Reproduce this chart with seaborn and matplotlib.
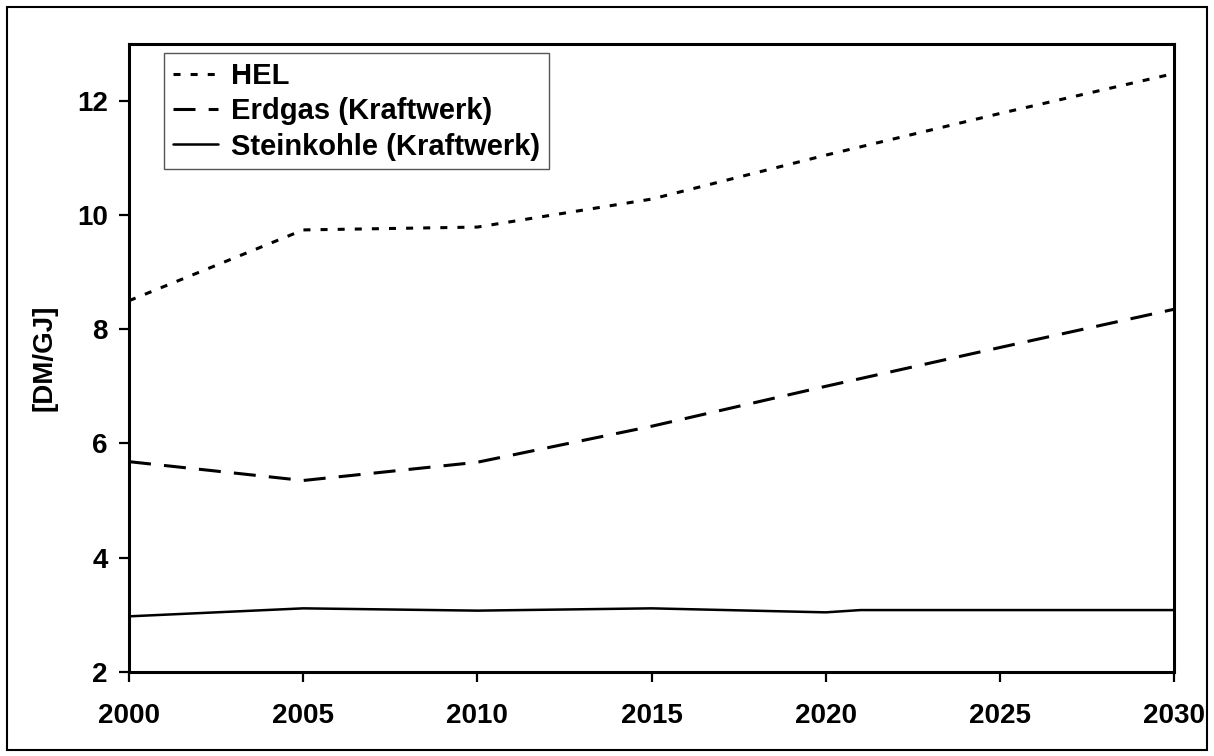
import numpy as np
import pandas as pd
import matplotlib
matplotlib.use("Agg")
import matplotlib.pyplot as plt
import seaborn as sns
from matplotlib.patches import Rectangle

# values
jahre = [2000, 2005, 2010, 2015, 2020, 2025, 2030]
hel = [8.50, 9.74, 9.79, 10.28, 11.05, 11.78, 12.48]
erdgas = [5.68, 5.35, 5.67, 6.30, 7.00, 7.68, 8.35]

jahre_kohle = [2000, 2005, 2010, 2015, 2020, 2021, 2030]
steinkohle = [2.97, 3.11, 3.07, 3.11, 3.04, 3.08, 3.08]

labels = ["HEL", "Erdgas (Kraftwerk)", "Steinkohle (Kraftwerk)"]
x_ticks = [2000, 2005, 2010, 2015, 2020, 2025, 2030]
y_ticks = [2, 4, 6, 8, 10, 12]

sns.set_theme(style="white")
plt.rcParams['font.family'] = ['Liberation Sans', 'DejaVu Sans']
plt.rcParams['font.weight'] = 'bold'
plt.rcParams['text.color'] = 'black'
plt.rcParams['axes.labelcolor'] = 'black'
plt.rcParams['xtick.color'] = 'black'
plt.rcParams['ytick.color'] = 'black'

fig = plt.figure(figsize=(12.14, 7.56), dpi=100)
ax = fig.add_axes([0.1063, 0.1115, 0.8608, 0.8305])

lw = 2.2
sns.lineplot(x=jahre, y=hel, ax=ax, color="black", linewidth=lw, label=labels[0])
sns.lineplot(x=jahre, y=erdgas, ax=ax, color="black", linewidth=lw, label=labels[1])
sns.lineplot(x=jahre_kohle, y=steinkohle, ax=ax, color="black", linewidth=1.8, label=labels[2])

lines = ax.get_lines()
lines[0].set_dashes((2.3, 3.3))
lines[1].set_dashes((7.2, 4.3))

ax.set_xlim(2000, 2030)
ax.set_ylim(2, 13)
ax.set_xticks(x_ticks)
ax.set_yticks(y_ticks)
ax.set_xticklabels([str(t) for t in x_ticks], fontsize=20, fontweight='bold', color='black')
ax.set_yticklabels([str(t) for t in y_ticks], fontsize=20, fontweight='bold', color='black')
ax.tick_params(axis='both', direction='out', length=7.2, width=1.6, color='black',
               bottom=True, left=True)
ax.tick_params(axis='x', pad=15)
ax.tick_params(axis='y', pad=8)
ax.set_xlabel("")
ax.set_ylabel("[DM/GJ]", fontsize=20, fontweight='bold', labelpad=14, color='black')

for sp in ax.spines.values():
    sp.set_visible(True)
    sp.set_color("black")
    sp.set_linewidth(2.2)

leg = ax.legend(loc="upper left", bbox_to_anchor=(0.0335, 0.985), borderaxespad=0,
                frameon=True, fancybox=False, framealpha=1,
                edgecolor="#555555", handlelength=1.55, handletextpad=0.45,
                labelspacing=0.25, borderpad=0.3, prop={'weight': 'bold', 'size': 21})
leg.get_frame().set_linewidth(1.0)
for t in leg.get_texts():
    t.set_color("black")

# outer frame round the whole figure
fig.patches.append(Rectangle((0.006, 0.008), 0.988, 0.983, transform=fig.transFigure,
                             fill=False, edgecolor="black", linewidth=1.5))

fig.savefig("out.png", dpi=100)
